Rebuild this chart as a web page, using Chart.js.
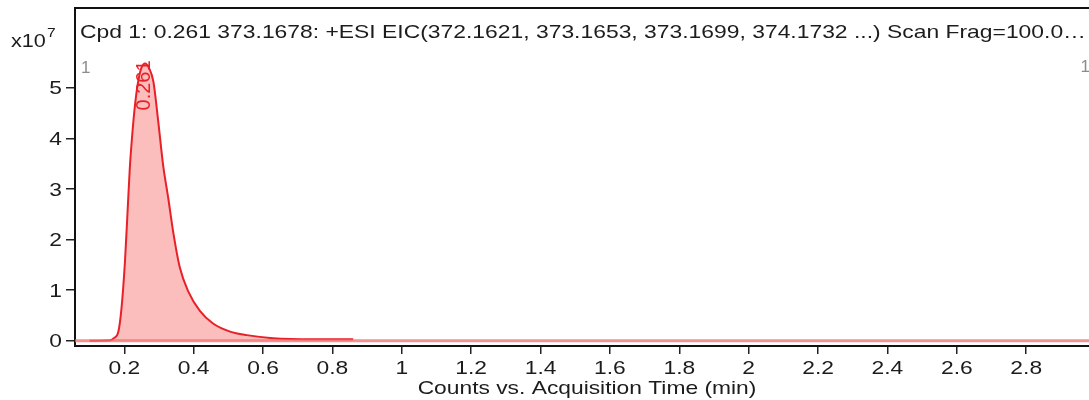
<!DOCTYPE html>
<html>
<head>
<meta charset="utf-8">
<script src="https://cdn.jsdelivr.net/npm/chart.js@4.4.1/dist/chart.umd.min.js"></script>
<style>
  html, body { margin: 0; padding: 0; background: #ffffff; }
  #wrap { width: 1089px; height: 400px; position: relative; }
</style>
</head>
<body>
<div id="wrap"><canvas id="eic" width="1089" height="400"></canvas></div>
<script>
// Extracted ion chromatogram, compound 1
const titleText = 'Cpd 1: 0.261 373.1678: +ESI EIC(372.1621, 373.1653, 373.1699, 374.1732 ...) Scan Frag=100.0\u2026';
const xAxisTitle = 'Counts vs. Acquisition Time (min)';
const exponentBase = 'x10';
const exponentPower = '7';
const traceIndex = '1';

// Acquisition time (min) and counts (x10^7)
const times  = [0.100, 0.160, 0.170, 0.183, 0.192, 0.202, 0.209, 0.216, 0.223, 0.231,
                0.240, 0.250, 0.260, 0.272, 0.284, 0.298, 0.312, 0.327, 0.341, 0.360,
                0.384, 0.418, 0.456, 0.505, 0.553, 0.629, 0.745, 0.860];
const counts = [0.00, 0.01, 0.05, 0.18, 0.64, 1.56, 2.48, 3.41, 4.07, 4.66,
                5.12, 5.40, 5.48, 5.38, 5.12, 4.33, 3.47, 2.81, 2.15, 1.45,
                0.98, 0.59, 0.34, 0.18, 0.11, 0.05, 0.03, 0.03];

// Zero-intensity baseline across the acquisition window
const baselineTimes  = [0.058, 2.981];
const baselineCounts = [0, 0];

// Axis ticks
const xTickValues = [0.2, 0.4, 0.6, 0.8, 1, 1.2, 1.4, 1.6, 1.8, 2, 2.2, 2.4, 2.6, 2.8];
const xTickLabels = ['0.2', '0.4', '0.6', '0.8', '1', '1.2', '1.4', '1.6', '1.8', '2', '2.2', '2.4', '2.6', '2.8'];
const yTickValues = [0, 1, 2, 3, 4, 5];
const yTickLabels = ['0', '1', '2', '3', '4', '5'];

// Axis ranges
const xRange = [0.058, 2.981];
const yRange = [-0.105, 6.575];

// Labelled peak
const peakTime  = 0.261;
const peakCount = 5.48;
const peakLabel = '0.261';

const FONT = '"Liberation Sans", Arial, Helvetica, sans-serif';
const RED = 'rgb(232, 32, 40)';
const TEXT = '#1c1c1c';
const WIDE = 1.2;   // horizontal stretch of the instrument-report lettering

const toPoints = (xs, ys) => xs.map((x, i) => ({ x: x, y: ys[i] }));

function wideText(ctx, text, x, y, align, sx) {
  ctx.save();
  ctx.translate(x, y);
  ctx.scale(sx, 1);
  ctx.textAlign = align;
  ctx.fillText(text, 0, 0);
  ctx.restore();
}

// Frame, axis lettering, header texts and peak annotation
const decorations = {
  id: 'decorations',
  afterDraw(chart) {
    const { ctx, chartArea } = chart;
    const xs = chart.scales.x, ys = chart.scales.y;
    ctx.save();

    // top frame line
    ctx.strokeStyle = '#111';
    ctx.lineWidth = 2;
    ctx.beginPath();
    ctx.moveTo(chartArea.left - 1, chartArea.top);
    ctx.lineTo(chartArea.right, chartArea.top);
    ctx.stroke();

    ctx.fillStyle = TEXT;
    ctx.textBaseline = 'alphabetic';

    // header text, stretched to fill the frame width
    ctx.font = '18.5px ' + FONT;
    const avail = chartArea.right - chartArea.left - 8;
    const sx = avail / ctx.measureText(titleText).width;
    wideText(ctx, titleText, chartArea.left + 5, 38, 'left', sx);

    // tick labels
    ctx.font = '19px ' + FONT;
    xTickValues.forEach((v, i) => {
      wideText(ctx, xTickLabels[i], xs.getPixelForValue(v), 374, 'center', WIDE);
    });
    yTickValues.forEach((v, i) => {
      wideText(ctx, yTickLabels[i], chartArea.left - 13, ys.getPixelForValue(v) + 6.8, 'right', WIDE);
    });

    // axis title
    wideText(ctx, xAxisTitle, (chartArea.left + chartArea.right) / 2 + 5, 394, 'center', WIDE);

    // exponent of the count axis
    ctx.font = '18px ' + FONT;
    wideText(ctx, exponentBase, 11, 47, 'left', WIDE);
    ctx.font = '13px ' + FONT;
    wideText(ctx, exponentPower, 47, 37, 'left', WIDE);

    // trace index markers
    ctx.fillStyle = '#8c8c8c';
    ctx.font = '17px ' + FONT;
    wideText(ctx, traceIndex, chartArea.left + 6, 73, 'left', 1);
    wideText(ctx, traceIndex, chartArea.right + 1, 72, 'right', 1);

    // peak retention time label
    const px = xs.getPixelForValue(peakTime);
    const py = ys.getPixelForValue(peakCount) - 3;
    ctx.translate(px - 1, py);
    ctx.rotate(-Math.PI / 2);
    ctx.fillStyle = RED;
    ctx.font = '20px ' + FONT;
    ctx.textAlign = 'right';
    ctx.textBaseline = 'middle';
    ctx.fillText(peakLabel, 0, 0);
    ctx.restore();
  }
};

new Chart(document.getElementById('eic'), {
  type: 'line',
  data: {
    datasets: [
      {
        label: 'baseline',
        data: toPoints(baselineTimes, baselineCounts),
        borderColor: 'rgba(240, 110, 110, 0.75)',
        borderWidth: 3,
        pointRadius: 0,
        fill: false,
        order: 0
      },
      {
        label: 'EIC',
        data: toPoints(times, counts),
        borderColor: RED,
        borderWidth: 2,
        backgroundColor: 'rgba(250, 135, 135, 0.55)',
        pointRadius: 0,
        cubicInterpolationMode: 'monotone',
        fill: 'origin',
        order: 1
      }
    ]
  },
  options: {
    responsive: false,
    animation: false,
    devicePixelRatio: 1,
    layout: { padding: { top: 8, left: 0, right: 0, bottom: 0 } },
    plugins: {
      legend: { display: false },
      tooltip: { enabled: false },
      title: { display: false }
    },
    scales: {
      x: {
        type: 'linear',
        min: xRange[0],
        max: xRange[1],
        afterFit(scale) { scale.height = 54; },
        afterBuildTicks(scale) { scale.ticks = xTickValues.map(v => ({ value: v })); },
        grid: { drawOnChartArea: false, drawTicks: true, tickLength: 8, color: '#222', lineWidth: 1.5 },
        border: { display: true, color: '#111', width: 2 },
        ticks: { display: false },
        title: { display: false }
      },
      y: {
        type: 'linear',
        min: yRange[0],
        max: yRange[1],
        afterFit(scale) { scale.width = 75; },
        afterBuildTicks(scale) { scale.ticks = yTickValues.map(v => ({ value: v })); },
        grid: { drawOnChartArea: false, drawTicks: true, tickLength: 9, color: '#222', lineWidth: 1.5 },
        border: { display: true, color: '#111', width: 2 },
        ticks: { display: false }
      }
    }
  },
  plugins: [decorations]
});
</script>
</body>
</html>
